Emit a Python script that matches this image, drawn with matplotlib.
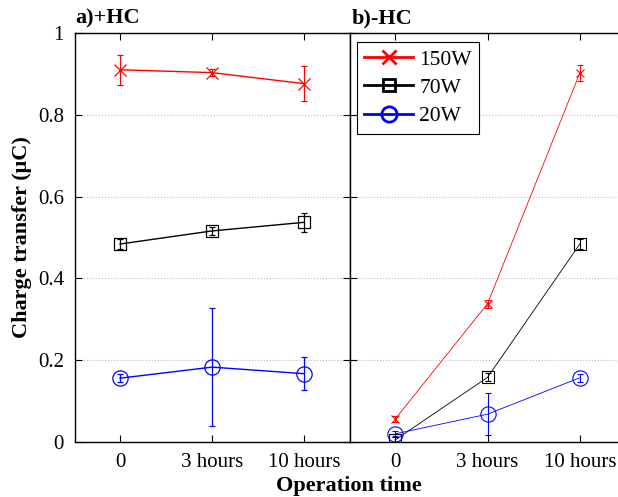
import numpy as np
import matplotlib.pyplot as plt

plt.rcParams['font.family'] = ['Liberation Serif', 'DejaVu Serif']

times = ['0', '3 hours', '10 hours']
labels = ['150W', '70W', '20W']
colors = ['#ff0000', '#000000', '#0000ff']
markers = ['x', 's', 'o']
msizes_a = [9, 8.5, 11]
msizes_b = [6, 8, 11]

# a) +HC
plus_vals = [[0.910, 0.903, 0.876],
             [0.484, 0.516, 0.537],
             [0.156, 0.183, 0.167]]
plus_err = [[0.037, 0.008, 0.042],
            [0.012, 0.010, 0.023],
            [0.010, 0.144, 0.041]]

# b) -HC
minus_vals = [[0.056, 0.338, 0.902],
              [0.005, 0.158, 0.484],
              [0.020, 0.068, 0.157]]
minus_err = [[0.008, 0.010, 0.020],
             [0.006, 0.010, 0.012],
             [0.006, 0.052, 0.010]]

fig = plt.figure(figsize=(6.18, 4.97), dpi=100)
ax1 = fig.add_axes([0.1214, 0.1107, 0.445, 0.823])
ax2 = fig.add_axes([0.5663, 0.1107, 0.4466, 0.823])

x = np.arange(len(times))


def style(ax):
    ax.set_xlim(-0.49, 2.5)
    ax.set_ylim(0, 1)
    ax.set_xticks(x)
    ax.set_xticklabels(times)
    ax.set_yticks([0, 0.2, 0.4, 0.6, 0.8, 1])
    ax.tick_params(direction='in', top=True, right=True, labelsize=15, length=5, pad=8)
    for y in [0.2, 0.4, 0.6, 0.8]:
        ax.axhline(y, color='#bbbbbb', linestyle=':', linewidth=0.8, zorder=0)
    for s in ax.spines.values():
        s.set_linewidth(1.0)


for i in range(3):
    ax1.errorbar(x, plus_vals[i], yerr=plus_err[i], color=colors[i], marker=markers[i],
                 ms=msizes_a[i], mfc='none', mew=0.9, linewidth=1.0, elinewidth=0.9,
                 capsize=2.5, label=labels[i])
    ax2.errorbar(x, minus_vals[i], yerr=minus_err[i], color=colors[i], marker=markers[i],
                 ms=msizes_b[i], mfc='none', mew=0.8, linewidth=0.6, elinewidth=0.8,
                 capsize=2.5)

style(ax1)
style(ax2)
ax1.set_yticklabels(['0', '0.2', '0.4', '0.6', '0.8', '1'])
ax2.set_yticklabels([])

ax1.set_title('a)+HC', loc='left', fontweight='bold', fontsize=16, x=0.0, pad=7)
ax2.set_title('b)-HC', loc='left', fontweight='bold', fontsize=16, x=0.005, pad=7)
ax1.set_ylabel('Charge transfer (\u03bcC)', fontweight='bold', fontsize=16, labelpad=4)
fig.text(0.565, 0.012, 'Operation time', fontweight='bold', fontsize=16, ha='center')

h = [plt.Line2D([], [], color=colors[i], marker=markers[i], ms=[10, 8.5, 11][i],
                mfc='none', mew=2, linewidth=2) for i in range(3)]
leg = ax2.legend(h, labels, loc='upper left', fontsize=15.5, handlelength=2.25,
                 handletextpad=0.3, fancybox=False, edgecolor='black', framealpha=1,
                 bbox_to_anchor=(0.025, 0.978), borderpad=0.35, labelspacing=0.38,
                 borderaxespad=0)
leg.get_frame().set_linewidth(0.8)

fig.savefig('out.png', dpi=100)
